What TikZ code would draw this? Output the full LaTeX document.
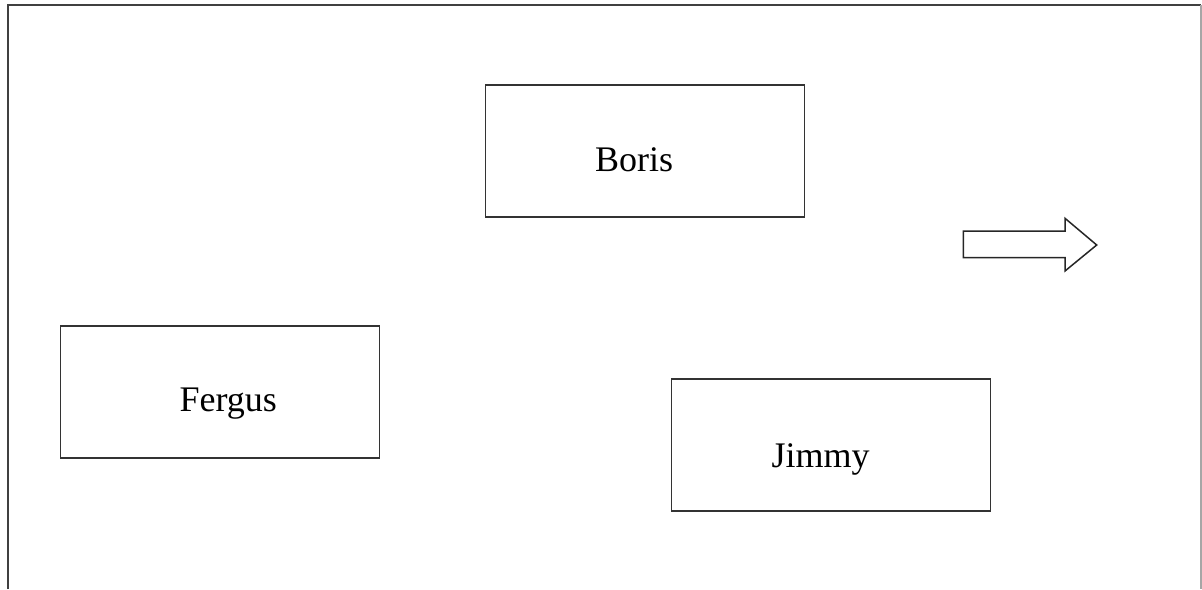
\documentclass[tikz,border=0pt]{standalone}
\usepackage{fontspec}
\setmainfont{Liberation Serif}
\begin{document}
\begin{tikzpicture}[x=1pt,y=-1pt,
  box/.style={draw=black!80,line width=1.3pt,minimum width=319pt,minimum height=132pt,inner sep=0pt},
  lbl/.style={anchor=base,inner sep=0pt,font=\fontsize{36}{40}\selectfont}]
\useasboundingbox (0,0) rectangle (1202,589);
\draw[black!75,line width=2pt] (7.5,589) -- (7.5,5) -- (1201,5);
\draw[black!35,line width=1.2pt] (1201,5) -- (1201,589);
\node[box] (boris) at (645,151) {};
\node[box] (fergus) at (219.7,392) {};
\node[box] (jimmy) at (831,445) {};
\node[lbl] (tb) at (634,171.7) {Boris};
\node[lbl] (tf) at (228.3,411.7) {Fergus};
\node[lbl] (tj) at (820.5,467.3) {Jimmy};
\draw[black!85,line width=1.5pt,line join=miter] (963.3,231) -- (1065,231) -- (1065,218.3) -- (1096.7,245) -- (1065,271) -- (1065,257.7) -- (963.3,257.7) -- cycle;
\end{tikzpicture}
\end{document}
